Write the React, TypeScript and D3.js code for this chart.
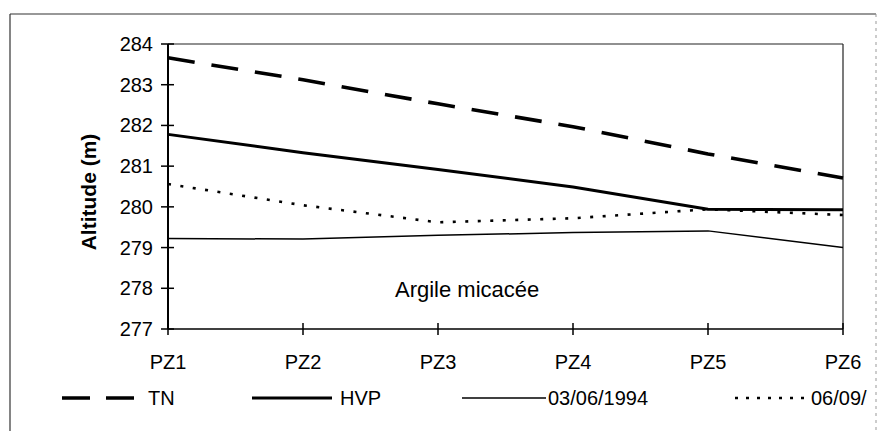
import React from "react";
import * as d3 from "d3";

const categories = ["PZ1", "PZ2", "PZ3", "PZ4", "PZ5", "PZ6"];
const tnValues = [283.66, 283.12, 282.53, 281.97, 281.3, 280.71];
const hvpValues = [281.78, 281.33, 280.92, 280.49, 279.94, 279.93];
const june1994Values = [279.22, 279.21, 279.3, 279.37, 279.41, 279.0];
const sept1994Values = [280.56, 280.04, 279.62, 279.72, 279.94, 279.8];
const yTicks = [277, 278, 279, 280, 281, 282, 283, 284];
// legend labels as visible in the reference (the last one is cut by the frame)
const seriesNames = ["TN", "HVP", "03/06/1994", "06/09/"];
const yTitle = "Altitude (m)";
const annotation = "Argile micacée";

const W = 880;
const H = 431;
const FONT = "'Liberation Sans', Arial, sans-serif";

export default function App() {
  const x = d3.scalePoint<string>().domain(categories).range([168, 843]);
  const y = d3.scaleLinear().domain([277, 284]).range([329, 44]);
  const line = d3
    .line<number>()
    .x((_, i) => x(categories[i]) as number)
    .y((d) => y(d));

  const series = [
    { name: seriesNames[0], values: tnValues, width: 3.6, dash: "27 17", legendDash: "28 16" },
    { name: seriesNames[1], values: hvpValues, width: 3, dash: undefined, legendDash: undefined },
    { name: seriesNames[2], values: june1994Values, width: 1.5, dash: undefined, legendDash: undefined },
    { name: seriesNames[3], values: sept1994Values, width: 2.6, dash: "3 9.5", legendDash: "3 8" },
  ];

  const legendPos = [
    { lx: 62, len: 72, tx: 148 },
    { lx: 252, len: 80, tx: 340 },
    { lx: 462, len: 84, tx: 548 },
    { lx: 735, len: 72, tx: 811 },
  ];
  const legendY = 398;

  const [x0, x1] = x.range();
  const [yb, yt] = y.range();

  return (
    <svg
      width={W}
      height={H}
      style={{ position: "absolute", left: 0, top: 0, background: "#fff" }}
      fontFamily={FONT}
    >
      <rect x={0} y={0} width={W} height={H} fill="#fff" />
      {/* outer frame */}
      <line x1={10} y1={14} x2={10} y2={H} stroke="#333" strokeWidth={1.2} />
      <line x1={10} y1={14} x2={876} y2={14} stroke="#333" strokeWidth={1.2} />
      <line x1={876} y1={14} x2={876} y2={H} stroke="#999" strokeWidth={1} strokeDasharray="3 4" />

      {/* plot area border */}
      <line x1={x0} y1={yt} x2={x1} y2={yt} stroke="#222" strokeWidth={1.2} />
      <line x1={x1} y1={yt} x2={x1} y2={yb} stroke="#222" strokeWidth={1.2} />

      {/* series */}
      {series.map((s) => (
        <path
          key={s.name}
          d={line(s.values) || ""}
          fill="none"
          stroke="#000"
          strokeWidth={s.width}
          strokeDasharray={s.dash}
          strokeLinejoin="round"
        />
      ))}

      {/* y axis */}
      <line x1={x0} y1={yt} x2={x0} y2={yb} stroke="#000" strokeWidth={2} />
      {yTicks.map((t) => (
        <g key={t}>
          <line x1={x0 - 7} x2={x0 + 6} y1={y(t)} y2={y(t)} stroke="#000" strokeWidth={1.5} />
          <text x={153} y={y(t)} dy="0.35em" textAnchor="end" fontSize={20} fill="#000">
            {t}
          </text>
        </g>
      ))}

      {/* x axis */}
      <line x1={x0} y1={yb} x2={x1} y2={yb} stroke="#000" strokeWidth={1.6} />
      {categories.map((c) => (
        <g key={c}>
          <line x1={x(c)} x2={x(c)} y1={yb - 6} y2={yb + 6} stroke="#000" strokeWidth={1.5} />
          <text x={x(c)} y={362} dy="0.35em" textAnchor="middle" fontSize={20} fill="#000">
            {c}
          </text>
        </g>
      ))}

      {/* y title */}
      <text
        transform={`translate(96, 192) rotate(-90)`}
        textAnchor="middle"
        fontSize={21}
        fontWeight="bold"
        fill="#000"
      >
        {yTitle}
      </text>

      {/* annotation */}
      <text x={395} y={297} fontSize={22} fill="#000">
        {annotation}
      </text>

      {/* legend */}
      {series.map((s, i) => (
        <g key={s.name}>
          <line
            x1={legendPos[i].lx}
            x2={legendPos[i].lx + legendPos[i].len}
            y1={legendY}
            y2={legendY}
            stroke="#000"
            strokeWidth={s.width}
            strokeDasharray={s.legendDash}
          />
          <text x={legendPos[i].tx} y={legendY} dy="0.35em" fontSize={20} fill="#000">
            {s.name}
          </text>
        </g>
      ))}
    </svg>
  );
}
